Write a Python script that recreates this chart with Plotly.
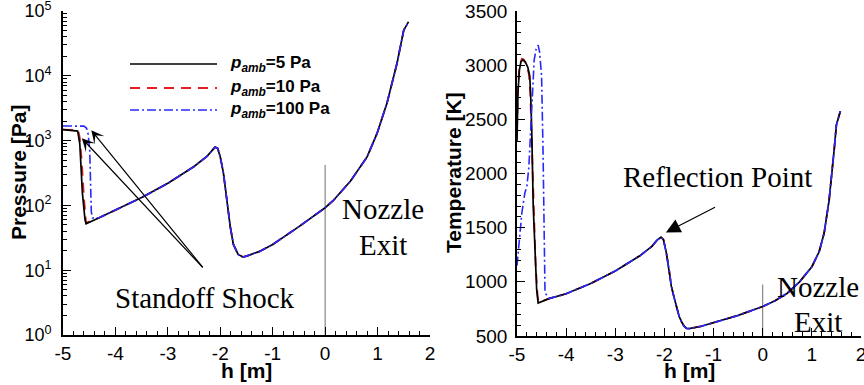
import plotly.graph_objects as go

# ---------------- data ----------------
# pressure along the stagnation line, shock region for each ambient pressure
h_p_5 = [-5.0, -4.72, -4.68, -4.63, -4.58, -4.56]
p_5 = [1480, 1400, 900, 155, 60, 52]
h_p_10 = [-5.0, -4.71, -4.68, -4.64, -4.60, -4.57, -4.56]
p_10 = [1480, 1450, 1100, 450, 130, 62, 54]
h_p_100 = [-5.0, -4.60, -4.55, -4.52, -4.49, -4.48, -4.46, -4.44]
p_100 = [1680, 1670, 1550, 1250, 700, 200, 80, 64]

# pressure downstream of the shock (identical for all cases)
h_p_common = [-4.3, -4.0, -3.5, -3.0, -2.5, -2.25, -2.15, -2.1, -2.05, -2.0, -1.94,
              -1.88, -1.81, -1.75, -1.66, -1.57, -1.5, -1.25, -1.0, -0.5, 0.0, 0.16,
              0.48, 0.8, 0.99, 1.18, 1.37, 1.5, 1.59]
p_common = [65, 85, 132, 219, 398, 575, 724, 794, 760, 560, 316,
            120, 47, 25, 17.5, 16, 16.5, 19.5, 25, 47, 92, 120,
            235, 560, 1290, 3800, 15500, 51000, 68000]

# temperature, shock region for each ambient pressure
h_t_5 = [-5.0, -4.98, -4.95, -4.92, -4.88, -4.83, -4.78, -4.74, -4.72, -4.70,
         -4.67, -4.63, -4.60, -4.57]
t_5 = [2300, 2750, 2960, 3030, 3050, 3030, 2980, 2900, 2700, 2400,
       1700, 1150, 930, 805]
h_t_10 = [-5.0, -4.98, -4.95, -4.9, -4.86, -4.8, -4.76, -4.73, -4.70, -4.66,
          -4.62, -4.58, -4.56]
t_10 = [2400, 2800, 3000, 3060, 3050, 2990, 2920, 2750, 2300, 1650,
        1150, 870, 812]
h_t_100 = [-5.0, -4.95, -4.90, -4.84, -4.80, -4.76, -4.72, -4.68, -4.65, -4.61,
           -4.57, -4.54, -4.50, -4.47, -4.45, -4.43]
t_100 = [1150, 1400, 1640, 1820, 1880, 2050, 2450, 2800, 3050, 3150,
         3185, 3120, 2900, 2200, 1400, 900]

# temperature downstream of the shock (identical for all cases)
h_t_common = [-4.35, -4.0, -3.5, -3.0, -2.5, -2.25, -2.15, -2.07, -2.02, -1.96,
              -1.9, -1.86, -1.8, -1.75, -1.7, -1.65, -1.6, -1.55, -1.5, -1.25,
              -1.0, -0.5, 0.0, 0.25, 0.5, 0.75, 1.0, 1.15, 1.25, 1.35, 1.45, 1.5, 1.58]
t_common = [845, 890, 985, 1100, 1240, 1330, 1385, 1412, 1390, 1265,
            1100, 960, 850, 770, 680, 630, 590, 570, 568, 590,
            625, 690, 772, 825, 895, 1000, 1140, 1280, 1450, 1750, 2200, 2450, 2575]

# nozzle exit marker
exit_h = [0, 0]
exit_p = [1, 420]
exit_t = [500, 975]

series_labels = ["5 Pa", "10 Pa", "100 Pa"]
h_ticks = [-5, -4, -3, -2, -1, 0, 1, 2]
h_tick_text = ["-5", "-4", "-3", "-2", "-1", "0", "1", "2"]
p_ticks = [1, 10, 100, 1000, 10000, 100000]
p_tick_text = ["10<sup>0</sup>", "10<sup>1</sup>", "10<sup>2</sup>",
               "10<sup>3</sup>", "10<sup>4</sup>", "10<sup>5</sup>"]
t_ticks = [500, 1000, 1500, 2000, 2500, 3000, 3500]

# ---------------- styling ----------------
SANS = "Liberation Sans, Arial, sans-serif"
SERIF = "Liberation Serif, Times New Roman, serif"
styles = [
    dict(color="black", width=1.7, dash="solid"),
    dict(color="rgb(228,30,30)", width=1.8, dash="10px,7px"),
    dict(color="rgb(40,40,255)", width=1.6, dash="9px,3px,2px,3px"),
]

fig = go.Figure()

# nozzle exit lines
fig.add_trace(go.Scatter(x=exit_h, y=exit_p, mode="lines", xaxis="x", yaxis="y",
                         line=dict(color="rgb(110,110,110)", width=1), showlegend=False,
                         hoverinfo="skip"))
fig.add_trace(go.Scatter(x=exit_h, y=exit_t, mode="lines", xaxis="x2", yaxis="y2",
                         line=dict(color="rgb(110,110,110)", width=1), showlegend=False,
                         hoverinfo="skip"))

p_series = [(h_p_5, p_5), (h_p_10, p_10), (h_p_100, p_100)]
t_series = [(h_t_5, t_5), (h_t_10, t_10), (h_t_100, t_100)]
# red first, then black, then blue on top
for i in [1, 0, 2]:
    hp, pv = p_series[i]
    ht, tv = t_series[i]
    st, lab = styles[i], series_labels[i]
    fig.add_trace(go.Scatter(x=hp + h_p_common, y=pv + p_common, mode="lines",
                             xaxis="x", yaxis="y", line=st, name=lab, showlegend=False))
    fig.add_trace(go.Scatter(x=ht + h_t_common, y=tv + t_common, mode="lines",
                             xaxis="x2", yaxis="y2", line=st, name=lab, showlegend=False))

W, H = 864, 385
xl = (63, 430)
xr = (517, 861)
ytop, ybot = 11, 335


def px_to_paper_x(px):
    return px / W


def px_to_paper_y(py):
    return 1 - py / H


axis_common = dict(
    showline=True, linecolor="black", linewidth=1.7, mirror=False,
    ticks="inside", ticklen=8, tickwidth=1.3, tickcolor="black",
    showgrid=False, zeroline=False, automargin=False, ticklabeloverflow="allow",
)
tick_font = dict(family=SANS, size=19, color="black")

minor_p = [m * 10 ** d for d in range(0, 5) for m in range(2, 10)]

fig.update_layout(
    width=W, height=H,
    margin=dict(l=0, r=0, t=0, b=0, pad=0),
    paper_bgcolor="white", plot_bgcolor="white",
    showlegend=False,
    xaxis=dict(domain=[px_to_paper_x(xl[0]), px_to_paper_x(xl[1])], range=[-5, 2],
               tickmode="array", tickvals=h_ticks, ticktext=h_tick_text,
               minor=dict(dtick=0.2, tick0=0, ticks="inside", ticklen=4,
                          tickcolor="black", tickwidth=1),
               anchor="y", ticklabelstandoff=0, tickfont=tick_font, **axis_common),
    yaxis=dict(domain=[px_to_paper_y(ybot), px_to_paper_y(ytop)], type="log",
               range=[0, 5], tickmode="array", tickvals=p_ticks, ticktext=p_tick_text,
               minor=dict(tickmode="array", tickvals=minor_p, ticks="inside", ticklen=4,
                          tickcolor="black", tickwidth=1),
               anchor="x", ticklabelstandoff=6,
               tickfont=dict(family=SANS, size=18, color="black"), **axis_common),
    xaxis2=dict(domain=[px_to_paper_x(xr[0]), px_to_paper_x(xr[1])], range=[-5, 2],
                tickmode="array", tickvals=h_ticks, ticktext=h_tick_text,
                minor=dict(dtick=0.2, tick0=0, ticks="inside", ticklen=4,
                           tickcolor="black", tickwidth=1),
                anchor="y2", ticklabelstandoff=0, tickfont=tick_font, **axis_common),
    yaxis2=dict(domain=[px_to_paper_y(ybot + 1), px_to_paper_y(ytop)], range=[500, 3500],
                tickmode="array", tickvals=t_ticks,
                minor=dict(dtick=100, tick0=0, ticks="inside", ticklen=4,
                           tickcolor="black", tickwidth=1),
                anchor="x2", ticklabelstandoff=4, tickfont=tick_font, **axis_common),
)

ann = []
# axis titles
title_font = dict(family=SANS, size=21, color="black")
for cx in (sum(xl) / 2, sum(xr) / 2):
    ann.append(dict(text="<b>h [m]</b>", x=px_to_paper_x(cx), y=px_to_paper_y(370),
                    xref="paper", yref="paper", xanchor="center", yanchor="middle",
                    showarrow=False, font=title_font))
ann.append(dict(text="<b>Pressure [Pa]</b>", x=px_to_paper_x(18), y=px_to_paper_y(173),
                xref="paper", yref="paper", xanchor="center", yanchor="middle",
                showarrow=False, textangle=-90, font=title_font))
ann.append(dict(text="<b>Temperature [K]</b>", x=px_to_paper_x(453), y=px_to_paper_y(173),
                xref="paper", yref="paper", xanchor="center", yanchor="middle",
                showarrow=False, textangle=-90, font=title_font))

# text labels (log axis annotations take log10 positions)
serif_font = dict(family=SERIF, size=29, color="black")
labels = [
    ("Standoff Shock", -2.29, 0.57, "x", "y"),
    ("Nozzle", 1.11, 1.95, "x", "y"),
    ("Exit", 1.11, 1.39, "x", "y"),
    ("Reflection Point", -0.93, 1969, "x2", "y2"),
    ("Nozzle", 1.12, 954, "x2", "y2"),
    ("Exit", 1.12, 631, "x2", "y2"),
]
for txt, lx, ly, xr_, yr_ in labels:
    ann.append(dict(text=txt, x=lx, y=ly, xref=xr_, yref=yr_, xanchor="center",
                    yanchor="middle", showarrow=False, font=serif_font))

# arrows
for hx, hy in [(-4.64, 3.035), (-4.46, 3.16)]:
    ann.append(dict(text="", x=hx, y=hy, xref="x", yref="y", ax=-2.31, ay=1.02,
                    axref="x", ayref="y", showarrow=True, arrowhead=3, arrowsize=1.8,
                    arrowwidth=1.2, arrowcolor="black"))
ann.append(dict(text="", x=-1.97, y=1455, xref="x2", yref="y2", ax=-0.94, ay=1695,
                axref="x2", ayref="y2", showarrow=True, arrowhead=2, arrowsize=2.4,
                arrowwidth=1.2, arrowcolor="black"))

# legend drawn inside the pressure panel
leg_rows = [64, 88, 110]
leg_x0, leg_x1, leg_tx = 130, 217, 228
shapes = []
for row, st, lab in zip(leg_rows, styles, series_labels):
    yd = 1 - (row - ytop) / (ybot - ytop)
    x0d = (leg_x0 - xl[0]) / (xl[1] - xl[0])
    x1d = (leg_x1 - xl[0]) / (xl[1] - xl[0])
    shapes.append(dict(type="line", xref="x domain", yref="y domain",
                       x0=x0d, x1=x1d, y0=yd, y1=yd,
                       line=dict(color=st["color"], width=st["width"], dash=st["dash"])))
    ann.append(dict(text=f"<b><i>p</i><sub><i>amb</i></sub>={lab}</b>",
                    x=(leg_tx - xl[0]) / (xl[1] - xl[0]), y=yd,
                    xref="x domain", yref="y domain", xanchor="left", yanchor="middle",
                    showarrow=False, font=dict(family=SANS, size=17, color="black")))

fig.update_layout(annotations=ann, shapes=shapes)

fig.write_html("out.html")
